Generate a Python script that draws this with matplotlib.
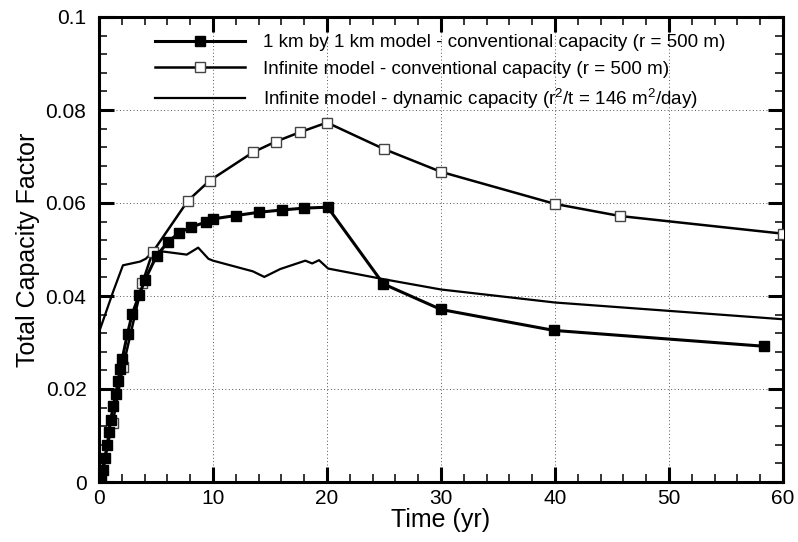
import matplotlib
matplotlib.use("Agg")
import matplotlib.pyplot as plt
from matplotlib.ticker import MultipleLocator

plt.rcParams['font.family'] = ['Liberation Sans', 'DejaVu Sans']
plt.rcParams['mathtext.fontset'] = 'custom'
plt.rcParams['mathtext.rm'] = 'Liberation Sans'
plt.rcParams['mathtext.default'] = 'regular'

# 1 km by 1 km model - conventional capacity
t_box = [0, 0.18, 0.38, 0.53, 0.73, 0.88, 1.02, 1.26, 1.46, 1.7, 1.84, 2.04, 2.5, 2.92,
         3.54, 4.04, 5.06, 6.08, 7.04, 8.04, 9.39, 10.03, 12.0, 14.0, 16.05, 18.0, 20.06,
         24.94, 30.0, 39.9, 58.3]
v_box = [0, 0.0004, 0.0026, 0.0052, 0.0079, 0.0108, 0.0133, 0.0164, 0.019, 0.0217, 0.0244,
         0.0265, 0.0319, 0.0362, 0.0403, 0.0435, 0.0487, 0.0517, 0.0536, 0.0548, 0.0559,
         0.0566, 0.0573, 0.058, 0.0585, 0.0589, 0.0591, 0.0426, 0.0371, 0.0326, 0.0292]

# Infinite model - conventional capacity
t_inf = [0, 1.2, 2.1, 3.8, 4.7, 7.8, 9.7, 13.5, 15.5, 17.6, 20.0, 25.0, 30.0, 40.0, 45.7, 60.0]
v_inf = [0, 0.0126, 0.0247, 0.0428, 0.0494, 0.0605, 0.0648, 0.0709, 0.0732, 0.0752, 0.0773,
         0.0716, 0.0667, 0.0598, 0.0572, 0.0534]

# Infinite model - dynamic capacity
t_dyn = [0, 1.25, 2.1, 3.6, 4.1, 4.8, 5.5, 7.7, 8.7, 9.6, 10.0, 13.5, 14.5, 15.9, 18.1, 18.7,
         19.3, 20.1, 25.0, 30.0, 40.0, 60.0]
v_dyn = [0.0322, 0.041, 0.0466, 0.0474, 0.048, 0.0497, 0.0496, 0.0489, 0.0504, 0.048, 0.0476,
         0.0453, 0.0441, 0.0458, 0.0476, 0.047, 0.0477, 0.0459, 0.0436, 0.0414, 0.0386, 0.035]

labels = ['1 km by 1 km model - conventional capacity (r = 500 m)',
          'Infinite model - conventional capacity (r = 500 m)',
          'Infinite model - dynamic capacity (r$^2$/t = 146 m$^2$/day)']

fig = plt.figure(figsize=(7.98, 5.42), dpi=100)
ax = fig.add_axes([99/798, 60/542, (783-99)/798, (482-17)/542])

ax.plot(t_dyn, v_dyn, color='black', lw=1.6, label=labels[2], zorder=3)
ax.plot(t_inf, v_inf, color='black', lw=1.8, marker='s', ms=7.5, mfc='white',
        mec='#444444', mew=1.0, label=labels[1], zorder=4)
ax.plot(t_box, v_box, color='black', lw=2.2, marker='s', ms=7.5, mfc='black',
        mec='black', label=labels[0], zorder=5)

ax.set_xlim(0, 60)
ax.set_ylim(0, 0.1)
ax.xaxis.set_minor_locator(MultipleLocator(2))
ax.yaxis.set_minor_locator(MultipleLocator(0.004))
ax.set_xticks([0, 10, 20, 30, 40, 50, 60])
ax.set_xticklabels(['0', '10', '20', '30', '40', '50', '60'])
ax.set_yticks([0, 0.02, 0.04, 0.06, 0.08, 0.1])
ax.set_yticklabels(['0', '0.02', '0.04', '0.06', '0.08', '0.1'])

ax.grid(True, which='major', linestyle=(0, (1, 2.5)), color='#555555', lw=0.7)
for s in ax.spines.values():
    s.set_linewidth(2.2)
ax.tick_params(which='major', direction='in', length=11, width=2.2, top=True, right=True,
               labelsize=15)
ax.tick_params(axis='x', which='major', pad=5)
ax.tick_params(axis='y', which='major', pad=9)
ax.tick_params(which='minor', direction='in', length=6, width=1.1, top=True, right=True)

ax.set_xlabel('Time (yr)', fontsize=18, labelpad=0)
ax.set_ylabel('Total Capacity Factor', fontsize=18, labelpad=4)

h, l = ax.get_legend_handles_labels()
order = [2, 1, 0]
leg = ax.legend([h[i] for i in order], [l[i] for i in order], loc='upper left',
                bbox_to_anchor=(155/798, 1 - 34/542), bbox_transform=fig.transFigure,
                frameon=False, fontsize=13.6, handlelength=4.75, handletextpad=0.95,
                labelspacing=0.48, borderaxespad=0, borderpad=0)
leg.set_zorder(10)

fig.savefig('out.png', dpi=100)
